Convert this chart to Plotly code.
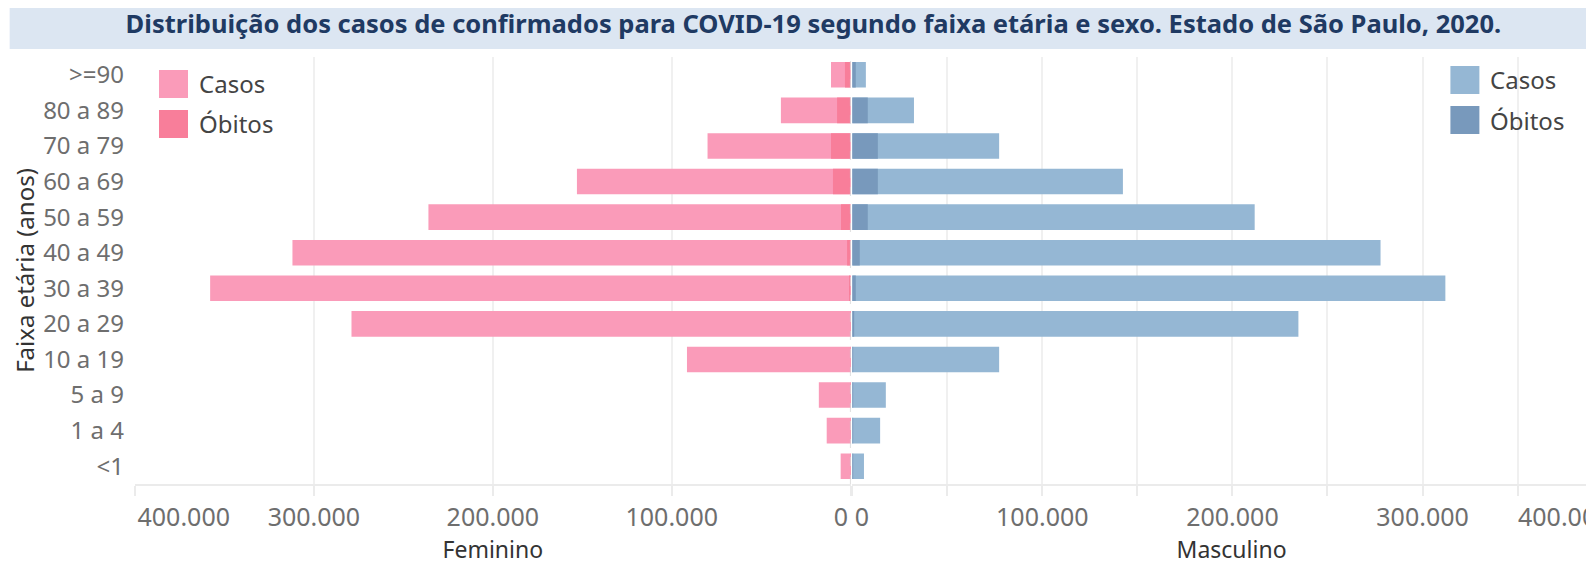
import plotly.graph_objects as go

categories = [">=90", "80 a 89", "70 a 79", "60 a 69", "50 a 59", "40 a 49",
              "30 a 39", "20 a 29", "10 a 19", "5 a 9", "1 a 4", "<1"]
fem_casos = [11000, 39000, 80000, 153000, 236000, 312000, 358000, 279000, 91500, 17800, 13400, 5600]
fem_obitos = [3200, 7600, 11000, 9900, 5400, 2000, 900, 300, 100, 30, 30, 50]
masc_casos = [7200, 32500, 77300, 142400, 211700, 277900, 312000, 234700, 77300, 17700, 14700, 6200]
masc_obitos = [1900, 8200, 13500, 13500, 8200, 4000, 1900, 700, 200, 50, 40, 60]

left_ticks = [400000, 300000, 200000, 100000, 0]
left_ticktext = ["\u00a0" * 15 + "400.000", "300.000", "200.000", "100.000", "0" + "\u00a0" * 3]
right_ticks = [0, 50000, 100000, 150000, 200000, 250000, 300000, 350000]
right_ticktext = ["\u00a0" * 3 + "0", "", "100.000", "", "200.000", "", "300.000", ""]

PINK_C = "#FA9BB9"
PINK_O = "#F87E9A"
BLUE_C = "#95B7D4"
BLUE_O = "#7899BC"

# page-pixel -> figure-pixel mapping (empirical placement of the figure in the page)
X0, SX = 9.6, 0.9888
Y0 = 8.0


def fx(p):
    return (p - X0) / SX


def fy(p):
    return p - Y0


W = 1602
H = 557
ML = fx(135)
MR = 0
MT = fy(57)
MB = H - fy(484)
pw = W - ML - MR
ph = H - MT - MB
RIGHT_MAX = (1594 - 852.5) / 190.3 * 100000


def px_x(p):
    """page pixel x -> paper fraction"""
    return (fx(p) - ML) / pw


def px_y(p):
    """page pixel y -> paper fraction"""
    return (H - MB - fy(p)) / ph


fig = go.Figure()
fig.add_trace(go.Bar(y=categories, x=fem_casos, orientation="h", marker_color=PINK_C,
                     name="Casos", xaxis="x", yaxis="y", showlegend=False))
fig.add_trace(go.Bar(y=categories, x=fem_obitos, orientation="h", marker_color=PINK_O,
                     name="Óbitos", xaxis="x", yaxis="y", showlegend=False))
fig.add_trace(go.Bar(y=categories, x=masc_casos, orientation="h", marker_color=BLUE_C,
                     name="Casos", xaxis="x2", yaxis="y2", showlegend=False))
fig.add_trace(go.Bar(y=categories, x=masc_obitos, orientation="h", marker_color=BLUE_O,
                     name="Óbitos", xaxis="x2", yaxis="y2", showlegend=False))
fig.update_traces(marker_line_width=0)

tickfont = dict(family="Noto Sans", size=25, color="#6e6e6e")
titlefont = dict(family="Noto Sans", size=23, color="#333333")
grid = "#f0f0f0"

left_end = px_x(851)
right_start = px_x(852.5)

fig.update_layout(
    width=W, height=H, autosize=False,
    margin=dict(l=ML, r=MR, t=MT, b=MB, pad=0),
    paper_bgcolor="white", plot_bgcolor="white",
    barmode="overlay", bargap=0.28,
    xaxis=dict(domain=[0, left_end], range=[400000, 0], tickvals=left_ticks,
               ticktext=left_ticktext, tickfont=tickfont, showgrid=True, gridcolor=grid,
               gridwidth=1.5, zeroline=False, showline=True, linecolor="#ebebeb", linewidth=1.5,
               ticks="outside", ticklen=10, tickcolor="#ebebeb", tickwidth=1.5,
               title=dict(text="Feminino", font=titlefont, standoff=4), anchor="y"),
    xaxis2=dict(domain=[right_start, 1], range=[0, RIGHT_MAX], tickvals=right_ticks,
                ticktext=right_ticktext, tickfont=tickfont, showgrid=True, gridcolor=grid,
                gridwidth=1.5, zeroline=False, showline=True, linecolor="#ebebeb", linewidth=1.5,
                ticks="outside", ticklen=10, tickcolor="#ebebeb", tickwidth=1.5,
                title=dict(text="\u200b" + "\u00a0" * 3 + "Masculino", font=titlefont, standoff=4),
                anchor="y2"),
    yaxis=dict(categoryorder="array", categoryarray=categories, autorange="reversed",
               tickfont=dict(family="Noto Sans", size=24, color="#6e6e6e"), showgrid=False,
               zeroline=False, ticks="", ticklabelstandoff=10, anchor="x",
               title=dict(text="Faixa etária (anos)", font=dict(family="Noto Sans", size=24, color="#333333"),
                          standoff=8)),
    yaxis2=dict(matches="y", showticklabels=False, showgrid=False, zeroline=False, anchor="x2"),
    title=dict(text="<b>Distribuição dos casos de confirmados para COVID-19 segundo faixa etária e sexo. Estado de São Paulo, 2020.</b>",
               font=dict(family="Noto Sans", size=25.5, color="#1F3A63"),
               x=fx(806) / W, xanchor="center", xref="container",
               y=1 - fy(24) / H, yanchor="middle", yref="container"),
)

shapes = [
    dict(type="rect", xref="paper", yref="paper", x0=-ML / pw, x1=1, y0=px_y(49), y1=px_y(Y0),
         fillcolor="#DCE6F2", line_width=0, layer="below"),
    dict(type="line", xref="x", yref="paper", x0=0, x1=0, y0=0, y1=1,
         line=dict(color="#d4d4d4", width=1.5, dash="dash")),
]

annotations = [
    dict(text="400.000", xref="paper", yref="paper", x=px_x(1517), y=px_y(516),
         xanchor="left", yanchor="middle", showarrow=False, font=tickfont),
]

legend_font = dict(family="Noto Sans", size=24, color="#444444")
for (sx, ty, label, color) in [
    (159, 70, "Casos", PINK_C), (159, 110, "Óbitos", PINK_O),
    (1451, 66, "Casos", BLUE_C), (1451, 106, "Óbitos", BLUE_O),
]:
    shapes.append(dict(type="rect", xref="paper", yref="paper",
                       x0=px_x(sx), x1=px_x(sx + 29), y0=px_y(ty + 28), y1=px_y(ty),
                       fillcolor=color, line_width=0))
    annotations.append(dict(text=label, xref="paper", yref="paper", x=px_x(sx + 38),
                            y=px_y(ty + 14), xanchor="left", yanchor="middle",
                            showarrow=False, font=legend_font))

fig.update_layout(shapes=shapes, annotations=annotations)

fig.write_html("out.html")
